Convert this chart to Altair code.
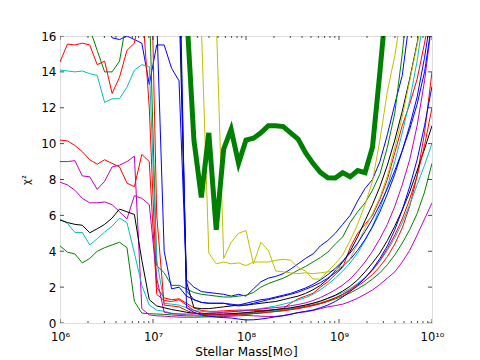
import altair as alt
import pandas as pd

H = 30.0  # off the top of the chart (clipped)
log_mass = [round(6 + 0.08 * i, 2) for i in range(51)]

thick_green = [H] * 17 + [17.5, 10.2, 7.0, 10.6, 5.2, 9.7, 10.8, 8.9, 10.2, 10.3, 10.6, 11.0, 11.0, 10.95,
                          10.6, 10.25, 9.5, 8.9, 8.4, 8.1, 8.08, 8.38, 8.15, 8.5, 8.38, 9.8, 14.0, 18.5] + [H] * 6
yellow_1 = [H] * 19 + [16.5, 3.9, 3.3, 3.4, 3.3, 3.35, 3.2, 3.4, 3.4, 3.4, 3.5, 3.55, 3.5, 3.1, 2.9, 2.45,
                       2.45, 2.9, 3.3, 3.8, 4.6, 5.5, 6.6, 7.9, 10.2, 12.9, 14.9, 17.5] + [H] * 4
yellow_2 = [H] * 21 + [17.0, 3.6, 4.5, 5.0, 5.15, 3.3, 4.5, 4.05, 2.9, 2.85, 2.8, 2.75, 2.8, 2.75, 2.8, 2.85,
                       2.95, 3.2, 3.6, 4.4, 5.3, 6.1, 7.0, 8.2, 9.8, 11.5, 13.5, 15.5, 18.0] + [H]
green_top = [H, H, H, 18.0, 16.4, 15.2, 14.0, 14.0, 14.6, 17.0, H, H, 18.0, 3.2, 2.8, 2.1, 2.1, 1.9, 1.7, 1.6,
             1.55, 1.5, 1.45, 1.45, 1.5, 1.55, 1.7, 2.0, 2.2, 2.35, 2.5, 2.7, 2.95, 3.15, 3.4, 3.65, 3.95, 4.4,
             4.8, 5.6, 6.2, 6.7, 7.4, 8.3, 9.8, 11.7, 15.0, 19.0, H, H, H]
green_low = [4.3, 3.95, 3.85, 3.35, 3.6, 4.0, 4.2, 4.35, 4.5, 4.2, 1.2, 0.55, 0.52, 0.5, 0.48, 0.45, 0.42, 0.4,
             0.4, 0.38, 0.38, 0.38, 0.4, 0.42, 0.45, 0.48, 0.52, 0.56, 0.6, 0.65, 0.7, 0.76, 0.83, 0.9, 0.98,
             1.08, 1.2, 1.34, 1.5, 1.68, 1.9, 2.15, 2.45, 2.8, 3.25, 3.8, 4.45, 5.2, 6.1, 7.3, 8.9]
blue_1 = [H, H, H, H, H, H, 17.0, 15.9, 15.8, 16.0, 15.8, 15.6, 13.3, 15.5, 15.5, 14.2, 13.5, 2.4, 2.0, 1.75,
          1.7, 1.65, 1.6, 1.5, 1.6, 1.5, 1.9, 2.3, 2.5, 2.6, 2.75, 3.0, 3.3, 3.6, 3.85, 4.3, 4.6, 5.0, 5.5, 6.0,
          6.8, 7.5, 8.0, 9.0, 10.5, 12.2, 13.8, 17.0, H, H, H]
blue_2 = [H] * 13 + [17.0, 4.0, 1.9, 2.0, 1.5, 1.3, 1.15, 1.1, 1.1, 1.1, 1.0, 0.95, 1.0, 1.1, 1.2, 1.3, 1.4,
                     1.5, 1.6, 1.72, 1.88, 2.05, 2.25, 2.5, 2.8, 3.15, 3.55, 4.05, 4.65, 5.35, 6.2, 7.2, 8.3,
                     9.6, 11.0, 12.6, 14.8, 17.5]
blue_3 = [H] * 16 + [20.0, 1.8, 1.3, 1.15, 1.1, 1.1, 1.1, 1.05, 1.0, 1.1, 1.2, 1.3, 1.35, 1.45, 1.55, 1.65,
                     1.8, 1.95, 2.15, 2.4, 2.7, 3.05, 3.45, 3.9, 4.45, 5.1, 5.8, 6.6, 7.5, 8.5, 9.6, 10.8, 12.2,
                     14.0, 16.8]
blue_4 = [H] * 16 + [22.0, 0.85, 0.6, 0.45, 0.38, 0.33, 0.3, 0.28, 0.22, 0.17, 0.18, 0.22, 0.28, 0.35, 0.4,
                     0.48, 0.58, 0.65, 0.72, 0.85, 1.0, 1.2, 1.45, 1.75, 2.1, 2.5, 3.0, 3.6, 4.3, 5.2, 6.3, 7.6,
                     9.1, 11.0, 13.2]
black_1 = [H] * 16 + [18.0, 2.3, 0.85, 0.8, 0.8, 0.85, 0.9, 0.95, 1.0, 1.0, 1.05, 1.1, 1.15, 1.2, 1.3, 1.4,
                      1.5, 1.65, 1.85, 2.1, 2.45, 2.9, 3.4, 4.0, 4.8, 5.7, 6.6, 7.6, 8.8, 10.2, 11.8, 13.6, 15.6,
                      18.0, H]
black_2 = [5.74, 5.6, 5.5, 5.45, 5.03, 5.25, 5.5, 5.85, 6.35, 6.2, 6.05, 3.5, 1.3, 0.95, 0.85, 0.75, 0.68, 0.6,
           0.55, 0.5, 0.5, 0.5, 0.5, 0.52, 0.55, 0.58, 0.62, 0.66, 0.7, 0.75, 0.8, 0.85, 0.92, 1.0, 1.1, 1.22,
           1.38, 1.55, 1.78, 2.05, 2.4, 2.85, 3.35, 3.9, 4.6, 5.4, 6.3, 7.3, 8.5, 9.7, 11.0]
cyan_1 = [14.1, 14.05, 14.0, 14.05, 13.9, 13.8, 12.3, 12.5, 12.5, 13.15, 14.1, 14.4, 14.3, 3.5, 1.1, 1.05, 1.0,
          0.85, 0.7, 0.65, 0.62, 0.6, 0.6, 0.62, 0.65, 0.7, 0.75, 0.8, 0.88, 0.95, 1.05, 1.15, 1.28, 1.42, 1.6,
          1.85, 2.15, 2.5, 2.9, 3.35, 3.9, 4.6, 5.4, 6.4, 7.6, 9.0, 10.6, 12.4, 14.6, 17.5, 22.0]
cyan_2 = [5.8, 5.55, 5.05, 5.05, 4.35, 4.7, 5.07, 5.4, 5.85, 5.6, 3.9, 2.1, 1.0, 0.72, 0.65, 0.55, 0.5, 0.45,
          0.42, 0.4, 0.4, 0.4, 0.42, 0.45, 0.48, 0.52, 0.56, 0.6, 0.65, 0.7, 0.76, 0.82, 0.9, 1.0, 1.1, 1.22,
          1.36, 1.52, 1.7, 1.92, 2.2, 2.55, 2.95, 3.45, 4.05, 4.75, 5.6, 6.6, 7.7, 8.8, 10.0]
magenta_1 = [9.0, 9.0, 9.05, 8.2, 8.15, 7.45, 7.9, 8.7, 8.8, 9.0, 9.3, 0.8, 0.45, 0.4, 0.38, 0.35, 0.33, 0.32,
             0.32, 0.33, 0.34, 0.35, 0.36, 0.38, 0.4, 0.42, 0.4, 0.38, 0.36, 0.37, 0.42, 0.5, 0.58, 0.62, 0.7,
             0.8, 0.9, 0.97, 1.05, 1.2, 1.38, 1.6, 1.84, 2.15, 2.5, 2.85, 3.4, 4.05, 4.9, 5.8, 6.7]
magenta_2 = [7.85, 7.7, 7.4, 6.95, 6.7, 6.7, 6.75, 6.6, 6.2, 5.8, 7.1, 6.95, 6.6, 2.5, 0.6, 0.52, 0.5, 0.5,
             0.5, 0.52, 0.55, 0.57, 0.6, 0.63, 0.66, 0.7, 0.74, 0.78, 0.82, 0.86, 0.9, 0.96, 1.03, 1.12, 1.25,
             1.42, 1.62, 1.85, 2.12, 2.45, 2.9, 3.4, 4.0, 4.7, 5.5, 6.5, 7.7, 9.1, 11.0, 13.5, 16.8]
red_1 = [14.55, 15.55, 15.5, 15.6, 15.5, 14.4, 14.6, 12.8, 13.7, 15.2, 15.6, 18.0, 12.0, 2.0, 1.4, 1.3, 1.35,
         1.1, 0.85, 0.7, 0.65, 0.65, 0.68, 0.7, 0.72, 0.72, 0.7, 0.7, 0.72, 0.75, 0.8, 1.1, 1.35, 1.5, 1.65,
         2.0, 2.3, 2.7, 3.1, 4.2, 5.0, 5.5, 6.0, 6.9, 8.0, 9.5, 11.0, 12.2, 13.6, 15.6, 18.0]
red_2 = [10.2, 10.15, 9.9, 9.55, 9.1, 8.85, 9.1, 8.9, 8.7, 7.8, 7.6, 9.4, 9.0, 1.6, 1.25, 1.2, 1.3, 1.0, 0.7,
         0.55, 0.5, 0.48, 0.48, 0.5, 0.52, 0.55, 0.58, 0.62, 0.66, 0.7, 0.75, 0.8, 0.86, 0.93, 1.02, 1.12,
         1.25, 1.4, 1.58, 1.8, 2.05, 2.35, 2.7, 3.15, 3.7, 4.4, 5.3, 6.5, 8.2, 10.6, 14.0]
red_3 = [H] * 12 + [25.0, 6.0, 1.0, 0.95, 0.9, 0.7, 0.55, 0.5, 0.45, 0.45, 0.45, 0.46, 0.48, 0.5, 0.53, 0.56,
                    0.6, 0.64, 0.68, 0.74, 0.8, 0.88, 0.97, 1.08, 1.22, 1.4, 1.6, 1.85, 2.15, 2.5, 2.95, 3.5,
                    4.15, 4.9, 5.8, 6.9, 8.2, 9.9, 12.0]

thin_series = [
    ("blue_1", "#0000ff", blue_1), ("green_top", "#008000", green_top), ("red_1", "#ff0000", red_1),
    ("cyan_1", "#00bfbf", cyan_1), ("magenta_1", "#bf00bf", magenta_1), ("yellow_1", "#bfbf00", yellow_1),
    ("black_1", "#000000", black_1), ("blue_2", "#0000ff", blue_2), ("green_low", "#008000", green_low),
    ("red_2", "#ff0000", red_2), ("cyan_2", "#00bfbf", cyan_2), ("magenta_2", "#bf00bf", magenta_2),
    ("yellow_2", "#bfbf00", yellow_2), ("black_2", "#000000", black_2), ("blue_3", "#0000ff", blue_3),
    ("red_3", "#ff0000", red_3), ("blue_4", "#0000ff", blue_4),
]

rows = []
for name, color, vals in thin_series:
    assert len(vals) == len(log_mass), name
    for lm, v in zip(log_mass, vals):
        rows.append({"series": name, "color": color, "mass": 10 ** lm, "chi2": v})
thin_df = pd.DataFrame(rows)
thick_df = pd.DataFrame({"mass": [10 ** lm for lm in log_mass], "chi2": thick_green})

x_tick_values = [1e6, 1e7, 1e8, 1e9, 1e10]
x_tick_labels = ["10⁶", "10⁷", "10⁸", "10⁹", "10¹⁰"]
minor_multipliers = [2, 3, 4, 5, 6, 7, 8, 9]
y_tick_values = [0, 2, 4, 6, 8, 10, 12, 14, 16]

label_expr = ""
for v, lab in zip(x_tick_values[:-1], x_tick_labels[:-1]):
    label_expr += f"datum.value < {v * 3:g} ? '{lab}' : "
label_expr += f"'{x_tick_labels[-1]}'"

FONT = "DejaVu Sans"
xscale = alt.Scale(type="log", domain=[1e6, 1e10], nice=False)
yscale = alt.Scale(domain=[0, 16], nice=False, zero=False)

x_axis = alt.Axis(values=x_tick_values, labelExpr=label_expr, ticks=False, domain=False, grid=False,
                  labelFont=FONT, labelFontSize=11.5, labelColor="black", labelPadding=8,
                  labelFlush=False, labelOverlap=False,
                  title="Stellar Mass[M⊙]", titleFont=FONT, titleFontSize=12, titleFontWeight="normal",
                  titleColor="black", titleY=32, titleBaseline="alphabetic")
y_axis = alt.Axis(values=y_tick_values, ticks=False, domain=False, grid=False, labelFont=FONT,
                  labelFontSize=12, labelColor="black", labelPadding=4, labelFlush=False,
                  labelOverlap=False, title="χ²", titleFont=FONT,
                  titleFontSize=10, titleFontWeight="normal", titleColor="black", titlePadding=9)

X = alt.X("mass:Q", scale=xscale, axis=x_axis)
Y = alt.Y("chi2:Q", scale=yscale, axis=y_axis)

thin = alt.Chart(thin_df).mark_line(strokeWidth=1, clip=True).encode(
    x=X, y=Y,
    color=alt.Color("color:N", scale=None),
    detail="series:N",
)
thick = alt.Chart(thick_df).mark_line(strokeWidth=5, color="#008000", clip=True).encode(x=X, y=Y)

major_df = pd.DataFrame([{"mass": m, "chi2": y} for m in x_tick_values for y in (0, 16)])
minor_df = pd.DataFrame([{"mass": k * m, "chi2": y} for m in x_tick_values[:-1]
                         for k in minor_multipliers for y in (0, 16)])
ytick_df = pd.DataFrame([{"mass": m, "chi2": y} for y in y_tick_values for m in (1e6, 1e10)])

major_ticks = alt.Chart(major_df).mark_tick(orient="vertical", size=8, thickness=1, color="black",
                                            clip=True).encode(x=X, y=Y)
minor_ticks = alt.Chart(minor_df).mark_tick(orient="vertical", size=4, thickness=1, color="black",
                                            clip=True).encode(x=X, y=Y)
y_ticks = alt.Chart(ytick_df).mark_tick(orient="horizontal", size=8, thickness=1, color="black",
                                        clip=True).encode(x=X, y=Y)

chart = alt.layer(thin, thick, major_ticks, minor_ticks, y_ticks).properties(
    width=372, height=287,
    autosize=alt.AutoSizeParams(type="none"),
    padding={"left": 52, "top": 28, "right": 40, "bottom": 37},
).configure_view(stroke="black", strokeWidth=1).configure(background="white")

chart.save("out.html", embed_options={"renderer": "svg", "actions": False})
